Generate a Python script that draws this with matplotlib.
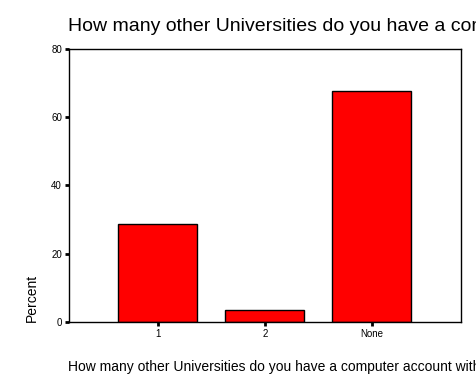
import matplotlib
matplotlib.use("Agg")
import matplotlib.pyplot as plt

plt.rcParams['font.family'] = ['Liberation Sans', 'DejaVu Sans']

categories = ["1", "2", "None"]
percent = [28.8, 3.4, 67.8]
yticks = [0, 20, 40, 60, 80]
question = "How many other Universities do you have a computer account with?"

fig = plt.figure(figsize=(4.76, 3.89), dpi=100)
ax = fig.add_axes([69 / 476, 1 - 321.7 / 389, (460.7 - 69) / 476, (321.7 - 49) / 389])

pos = list(range(len(categories)))
ax.bar(pos, percent, width=0.74, color="#ff0000", edgecolor="black", linewidth=1)

ax.set_xlim(-0.83, 2.83)
ax.set_ylim(0, 80)
ax.set_yticks(yticks)
ax.set_xticks(pos)
ax.set_xticklabels(categories)
ax.tick_params(axis="both", direction="out", length=3, width=2, labelsize=7, pad=2, colors="black")
for s in ax.spines.values():
    s.set_linewidth(1)
    s.set_color("black")

# title and labels placed like the original output (both run off the right edge there too)
fig.text(68 / 476, 1 - 31 / 389, question, fontsize=14, ha="left", va="baseline")
fig.text(68 / 476, 1 - 371.5 / 389, question, fontsize=10, ha="left", va="baseline")
fig.text(32 / 476, 1 - 321.7 / 389, "Percent", fontsize=10, rotation=90, ha="center", va="bottom")

fig.savefig("out.png", dpi=100)
